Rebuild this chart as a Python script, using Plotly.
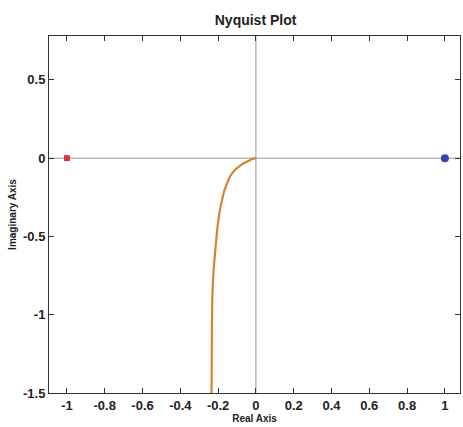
import plotly.graph_objects as go

# Nyquist curve points
real_part = [0.0, -0.020, -0.037, -0.065, -0.090, -0.110, -0.125, -0.140, -0.152, -0.165, -0.175, -0.190, -0.205, -0.213, -0.221, -0.228, -0.231, -0.233, -0.234, -0.235]
imag_part = [0.0, -0.006, -0.017, -0.033, -0.054, -0.074, -0.096, -0.125, -0.160, -0.200, -0.245, -0.330, -0.458, -0.564, -0.670, -0.798, -0.904, -1.098, -1.353, -1.500]

crit_point = (-1.0, 0.0)
start_point = (1.0, 0.0)

x_ticks = [-1, -0.8, -0.6, -0.4, -0.2, 0, 0.2, 0.4, 0.6, 0.8, 1]
x_tick_text = ["-1", "-0.8", "-0.6", "-0.4", "-0.2", "0", "0.2", "0.4", "0.6", "0.8", "1"]
y_ticks = [0.5, 0, -0.5, -1, -1.5]
y_tick_text = ["0.5", "0", "-0.5", "-1", "-1.5"]

fig = go.Figure()
fig.add_trace(go.Scatter(x=real_part, y=imag_part, mode="lines",
                         line=dict(color="#D6832E", width=2.2, shape="spline", smoothing=0.4),
                         hoverinfo="skip"))
fig.add_trace(go.Scatter(x=[crit_point[0]], y=[crit_point[1]], mode="markers",
                         marker=dict(color="#E0343A", size=6, symbol="square")))
fig.add_trace(go.Scatter(x=[start_point[0]], y=[start_point[1]], mode="markers",
                         marker=dict(color="#2F45B8", size=8, symbol="circle")))

fig.add_shape(type="line", x0=0, x1=0, y0=0, y1=1, yref="paper",
              line=dict(color="#999999", width=1), layer="below")
fig.add_shape(type="line", x0=0, x1=1, xref="paper", y0=0, y1=0,
              line=dict(color="#999999", width=1), layer="below")

tick_font = dict(family="Liberation Sans, Arial", size=13, color="#222222")
fig.update_layout(
    width=463, height=427,
    margin=dict(l=49, r=3, t=36, b=34),
    paper_bgcolor="white", plot_bgcolor="white",
    showlegend=False,
    title=dict(text="<b>Nyquist Plot</b>", x=0.552, xanchor="center", y=0.952, yanchor="middle",
               font=dict(family="Liberation Sans, Arial", size=14, color="#222222")),
    xaxis=dict(range=[-1.095, 1.08], tickvals=x_ticks, ticktext=[f"<b>{t}</b>" for t in x_tick_text],
               ticks="inside", ticklen=5, tickcolor="#333333", mirror="ticks",
               showline=True, linecolor="#333333", linewidth=1, showgrid=False, zeroline=False,
               tickfont=tick_font,
               title=dict(text="<b>Real Axis</b>", standoff=2,
                          font=dict(family="Liberation Sans, Arial", size=10, color="#222222"))),
    yaxis=dict(range=[-1.5, 0.78], tickvals=y_ticks, ticktext=[f"<b>{t}</b>" for t in y_tick_text],
               ticks="inside", ticklen=5, tickcolor="#333333", mirror="ticks",
               showline=True, linecolor="#333333", linewidth=1, showgrid=False, zeroline=False,
               tickfont=tick_font,
               title=dict(text="<b>Imaginary Axis</b>", standoff=4,
                          font=dict(family="Liberation Sans, Arial", size=10, color="#222222"))),
)

fig.write_html("out.html")
